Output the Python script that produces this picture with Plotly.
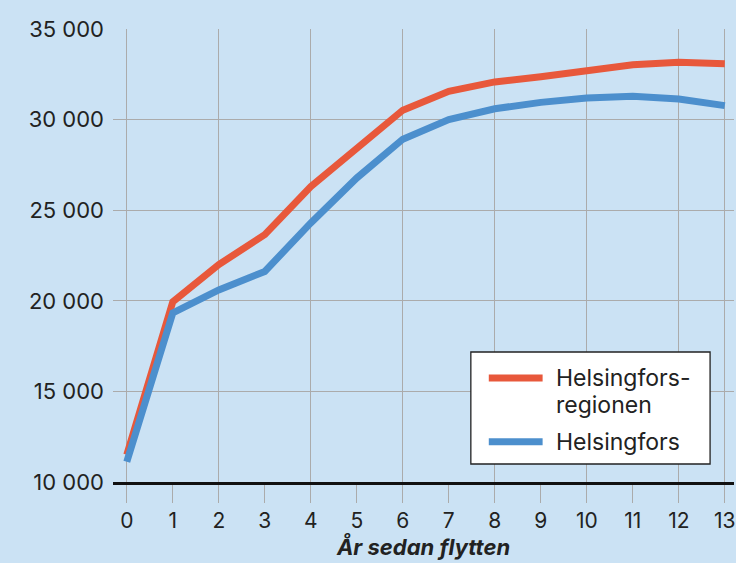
import plotly.graph_objects as go

years = list(range(0, 14))
region = [11500, 19950, 22000, 23650, 26300, 28380, 30520, 31560, 32080, 32360, 32700, 33030, 33160, 33080]
city = [11120, 19330, 20600, 21620, 24300, 26780, 28920, 30000, 30600, 30950, 31190, 31290, 31140, 30770]
legend_lines = [["Helsingfors-", "regionen"], ["Helsingfors"]]
y_ticks = [10000, 15000, 20000, 25000, 30000, 35000]
x_title = "År sedan flytten"

ORANGE = "#E8583B"
BLUE = "#4C8FCD"
BG = "#CBE2F4"
GRID = "#ABABAB"
FONT = "Inter"
TXT = "#222222"

W, H = 736, 563
ML, MR, MT, MB = 113, 0, 29, 81
PW, PH = W - ML - MR, H - MT - MB


def px(x):
    return (x - ML) / PW


def py(y):
    return (H - MB - y) / PH


fig = go.Figure()
fig.add_trace(go.Scatter(x=years, y=region, mode="lines", name="Helsingforsregionen",
                         line=dict(color=ORANGE, width=7), showlegend=False))
fig.add_trace(go.Scatter(x=years, y=city, mode="lines", name="Helsingfors",
                         line=dict(color=BLUE, width=7), showlegend=False))

# manual legend
fig.add_shape(type="rect", xref="paper", yref="paper", x0=px(472), x1=px(712), y0=py(464), y1=py(352),
              fillcolor="white", line=dict(color=TXT, width=1.3), layer="above")
for yy, col, lines in [(378, ORANGE, legend_lines[0]), (441.7, BLUE, legend_lines[1])]:
    fig.add_shape(type="line", xref="paper", yref="paper", x0=px(490), x1=px(544), y0=py(yy), y1=py(yy),
                  line=dict(color=col, width=7), layer="above")
    for i, t in enumerate(lines):
        fig.add_annotation(xref="paper", yref="paper", x=px(555), y=py(yy + 27 * i),
                           xanchor="left", yanchor="middle", text=t, showarrow=False, align="left",
                           font=dict(family=FONT, size=23, color=TXT))

fig.update_layout(
    width=W, height=H,
    margin=dict(l=ML, r=MR, t=MT, b=MB, pad=0),
    paper_bgcolor=BG, plot_bgcolor=BG,
    separators=", ",
    font=dict(family=FONT, size=22, color=TXT),
    showlegend=False,
)
fig.update_xaxes(
    range=[-0.3, 13.2],
    tickvals=years,
    ticks="outside", ticklen=18, tickwidth=1.3, tickcolor=GRID,
    showgrid=False,
    minor=dict(tickvals=[0, 2, 4, 6, 8, 10, 12, 13], showgrid=True, gridcolor=GRID, gridwidth=1.3, ticks=""),
    showline=True, linecolor="#111111", linewidth=3,
    ticklabeloverflow="allow",
    tickfont=dict(family=FONT, size=21, color=TXT),
    title=dict(text="<b><i>" + x_title + "</i></b>", font=dict(family=FONT, size=22, color=TXT), standoff=5),
    zeroline=False,
)
fig.update_yaxes(
    range=[10000, 35000],
    tickvals=y_ticks,
    tickformat=",d",
    showgrid=True, gridcolor=GRID, gridwidth=1.3,
    ticks="", ticklabelstandoff=8,
    tickfont=dict(family=FONT, size=22, color=TXT),
    zeroline=False,
)

fig.write_html("out.html", config={"displayModeBar": False},
               post_script="document.body.style.margin='0';document.body.style.overflow='hidden';")
